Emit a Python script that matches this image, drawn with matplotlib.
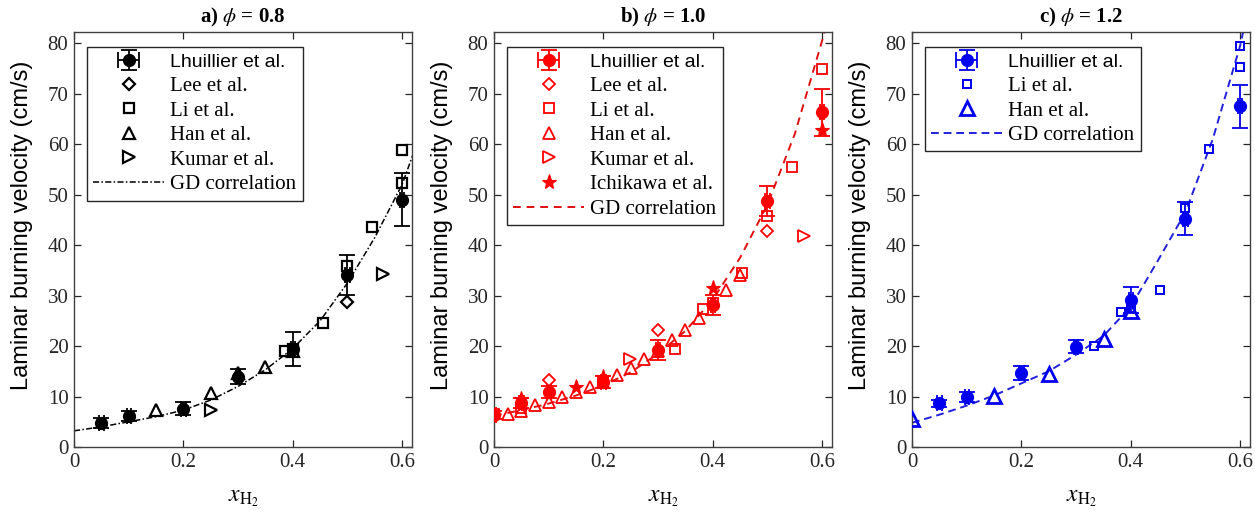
import numpy as np
import matplotlib
matplotlib.use("Agg")
import matplotlib.pyplot as plt

plt.rcParams['font.family'] = 'Liberation Serif'
plt.rcParams['mathtext.fontset'] = 'stix'

# ---- panel a) phi = 0.8 ----
a_lh_x = [0.05, 0.1, 0.2, 0.3, 0.4, 0.5, 0.6]
a_lh_y = [4.8, 6.2, 7.6, 13.9, 19.4, 34.1, 49.0]
a_lh_err = [1.0, 1.0, 1.3, 1.5, 3.4, 4.0, 5.2]
a_lee_x = [0.5]
a_lee_y = [28.8]
a_li_x = [0.385, 0.4, 0.455, 0.5, 0.545, 0.6, 0.6]
a_li_y = [19.0, 19.5, 24.5, 35.8, 43.6, 52.2, 58.8]
a_han_x = [0.15, 0.25, 0.3, 0.35, 0.4]
a_han_y = [7.3, 10.6, 14.6, 15.8, 19.0]
a_kum_x = [0.25, 0.565]
a_kum_y = [7.4, 34.2]
a_gd_x = [0, 0.05, 0.1, 0.15, 0.2, 0.25, 0.3, 0.35, 0.4, 0.45, 0.5, 0.55, 0.6, 0.62]
a_gd_y = [3.2, 4.0, 5.0, 6.0, 7.3, 9.3, 12.0, 15.3, 19.5, 25.0, 32.5, 41.5, 52.0, 58.0]

# ---- panel b) phi = 1.0 ----
b_lh_x = [0.0, 0.05, 0.1, 0.2, 0.3, 0.4, 0.5, 0.6]
b_lh_y = [6.4, 8.8, 10.9, 12.9, 19.2, 28.1, 48.7, 66.3]
b_lh_err = [0.8, 1.0, 1.2, 1.2, 1.9, 2.0, 3.0, 4.7]
b_lee_x = [0.1, 0.3, 0.5]
b_lee_y = [13.2, 23.2, 42.7]
b_li_x = [0.0, 0.05, 0.2, 0.331, 0.383, 0.4, 0.454, 0.5, 0.545, 0.6]
b_li_y = [6.5, 7.8, 13.0, 19.4, 27.3, 28.5, 34.4, 45.7, 55.5, 74.8]
b_han_x = [0.025, 0.05, 0.075, 0.1, 0.125, 0.15, 0.175, 0.2, 0.225, 0.25, 0.275,
           0.3, 0.325, 0.35, 0.375, 0.425, 0.45]
b_han_y = [6.6, 7.2, 8.3, 8.9, 9.9, 10.9, 11.9, 12.9, 14.2, 15.6, 17.4,
           19.0, 21.2, 23.2, 25.5, 31.0, 34.1]
b_kum_x = [0.248, 0.566]
b_kum_y = [17.4, 41.7]
b_ich_x = [0.05, 0.15, 0.2, 0.4, 0.6]
b_ich_y = [9.5, 11.9, 13.9, 31.5, 62.7]
b_gd_x = [0, 0.05, 0.1, 0.15, 0.2, 0.25, 0.3, 0.35, 0.4, 0.45, 0.5, 0.55, 0.6, 0.606]
b_gd_y = [6.2, 7.3, 8.6, 10.2, 12.2, 14.8, 18.5, 23.0, 29.2, 37.5, 48.0, 62.0, 80.5, 83.0]

# ---- panel c) phi = 1.2 ----
c_lh_x = [0.05, 0.1, 0.2, 0.3, 0.4, 0.5, 0.6]
c_lh_y = [8.7, 9.9, 14.6, 19.9, 29.1, 45.2, 67.5]
c_lh_err = [0.7, 1.0, 1.4, 1.3, 2.6, 3.3, 4.3]
c_li_x = [0.332, 0.383, 0.4, 0.453, 0.5, 0.543, 0.6, 0.6]
c_li_y = [20.1, 26.7, 27.5, 31.0, 47.3, 59.0, 75.3, 79.5]
c_han_x = [0.0, 0.15, 0.25, 0.351, 0.4]
c_han_y = [5.6, 10.1, 14.4, 21.3, 27.0]
c_gd_x = [0, 0.05, 0.1, 0.15, 0.2, 0.25, 0.3, 0.35, 0.4, 0.45, 0.5, 0.55, 0.6, 0.606]
c_gd_y = [4.8, 6.4, 8.2, 10.2, 12.6, 15.0, 18.3, 22.0, 27.8, 37.0, 46.5, 61.0, 79.5, 82.5]

titles = [r'a) $\phi$ = 0.8', r'b) $\phi$ = 1.0', r'c) $\phi$ = 1.2']
ylabel = 'Laminar burning velocity (cm/s)'
xticks = [0, 0.2, 0.4, 0.6]
xtick_labels = ['0', '0.2', '0.4', '0.6']
yticks = [0, 10, 20, 30, 40, 50, 60, 70, 80]

fig = plt.figure(figsize=(12.55, 5.22), dpi=100)
lefts = [74 / 1255, 494 / 1255, 912 / 1255]
axes = [fig.add_axes([l, 75 / 522, 338 / 1255, 415 / 522]) for l in lefts]

axcol = '#262626'
ms_open = 7.5
mew = 1.6


def lhuillier(ax, x, y, err, col):
    ax.errorbar(x, y, yerr=err, xerr=0.004, fmt='o', color=col, ms=8.5,
                capsize=6, elinewidth=1.3, capthick=1.3, label='Lhuillier et al.', zorder=5)


def openm(ax, x, y, m, col, lab, ms=ms_open, lw=mew):
    ax.plot(x, y, m, mfc='none', mec=col, ms=ms, mew=lw, linestyle='none', label=lab, zorder=4)


# panel a
ax = axes[0]
k = 'black'
lhuillier(ax, a_lh_x, a_lh_y, a_lh_err, k)
openm(ax, a_lee_x, a_lee_y, 'D', k, 'Lee et al.', ms=6.5)
openm(ax, a_li_x, a_li_y, 's', k, 'Li et al.', ms=7)
openm(ax, a_han_x, a_han_y, '^', k, 'Han et al.', ms=9)
openm(ax, a_kum_x, a_kum_y, '>', k, 'Kumar et al.', ms=9)
ax.plot(a_gd_x, a_gd_y, color=k, lw=1.1, linestyle=(0, (4, 1.5, 1, 1.5)), label='GD correlation')

# panel b
ax = axes[1]
r = '#ff0000'
lhuillier(ax, b_lh_x, b_lh_y, b_lh_err, r)
openm(ax, b_lee_x, b_lee_y, 'D', r, 'Lee et al.', ms=6.5, lw=1.3)
openm(ax, b_li_x, b_li_y, 's', r, 'Li et al.', ms=7, lw=1.3)
openm(ax, b_han_x, b_han_y, '^', r, 'Han et al.', ms=9, lw=1.3)
openm(ax, b_kum_x, b_kum_y, '>', r, 'Kumar et al.', ms=9, lw=1.3)
ax.plot(b_ich_x, b_ich_y, '*', color=r, ms=11, mew=0.8, mec=r, linestyle='none',
        label='Ichikawa et al.', zorder=4)
ax.plot(b_gd_x, b_gd_y, color='#e01010', lw=1.4, linestyle=(0, (4, 3)), label='GD correlation')

# panel c
ax = axes[2]
b = '#0000ee'
lhuillier(ax, c_lh_x, c_lh_y, c_lh_err, b)
openm(ax, c_li_x, c_li_y, 's', b, 'Li et al.', ms=6, lw=1.4)
openm(ax, c_han_x, c_han_y, '^', b, 'Han et al.', ms=10, lw=2)
ax.plot(c_gd_x, c_gd_y, color='#2020dd', lw=1.4, linestyle=(0, (4, 2.5)), label='GD correlation')

for i, ax in enumerate(axes):
    ax.set_xlim(0, 0.618)
    ax.set_ylim(0, 82.2)
    ax.set_xticks(xticks)
    ax.set_xticklabels(xtick_labels)
    ax.set_yticks(yticks)
    ax.tick_params(direction='in', top=True, right=True, length=5, width=0.9,
                   labelsize=15, colors=axcol, pad=4)
    for s in ax.spines.values():
        s.set_color('#404040')
        s.set_linewidth(1.0)
    ax.set_title(titles[i], fontsize=15, fontweight='bold', pad=7)
    ax.set_ylabel(ylabel, family='Liberation Sans', fontsize=17)
    ax.yaxis.set_label_coords(-0.12, 0.535)
    ax.set_xlabel(r'$x_{\mathrm{H}_2}$', fontsize=17, labelpad=12)

    # errorbar entry first, like the original legend order
    handles, labels = ax.get_legend_handles_labels()
    idx = labels.index('Lhuillier et al.')
    order = [idx] + [j for j in range(len(labels)) if j != idx]
    leg = ax.legend([handles[j] for j in order], [labels[j] for j in order],
                    loc='upper left', bbox_to_anchor=(0.038, 0.965), fontsize=15,
                    frameon=True, fancybox=False, edgecolor=axcol, framealpha=1,
                    handlelength=3.4, handletextpad=0.3, labelspacing=0.24,
                    borderpad=0.3, borderaxespad=0)
    leg.get_frame().set_linewidth(1.0)
    leg.get_texts()[0].set_family('Liberation Sans')
    leg.get_texts()[0].set_fontsize(14)

fig.savefig('out.png', dpi=100)
